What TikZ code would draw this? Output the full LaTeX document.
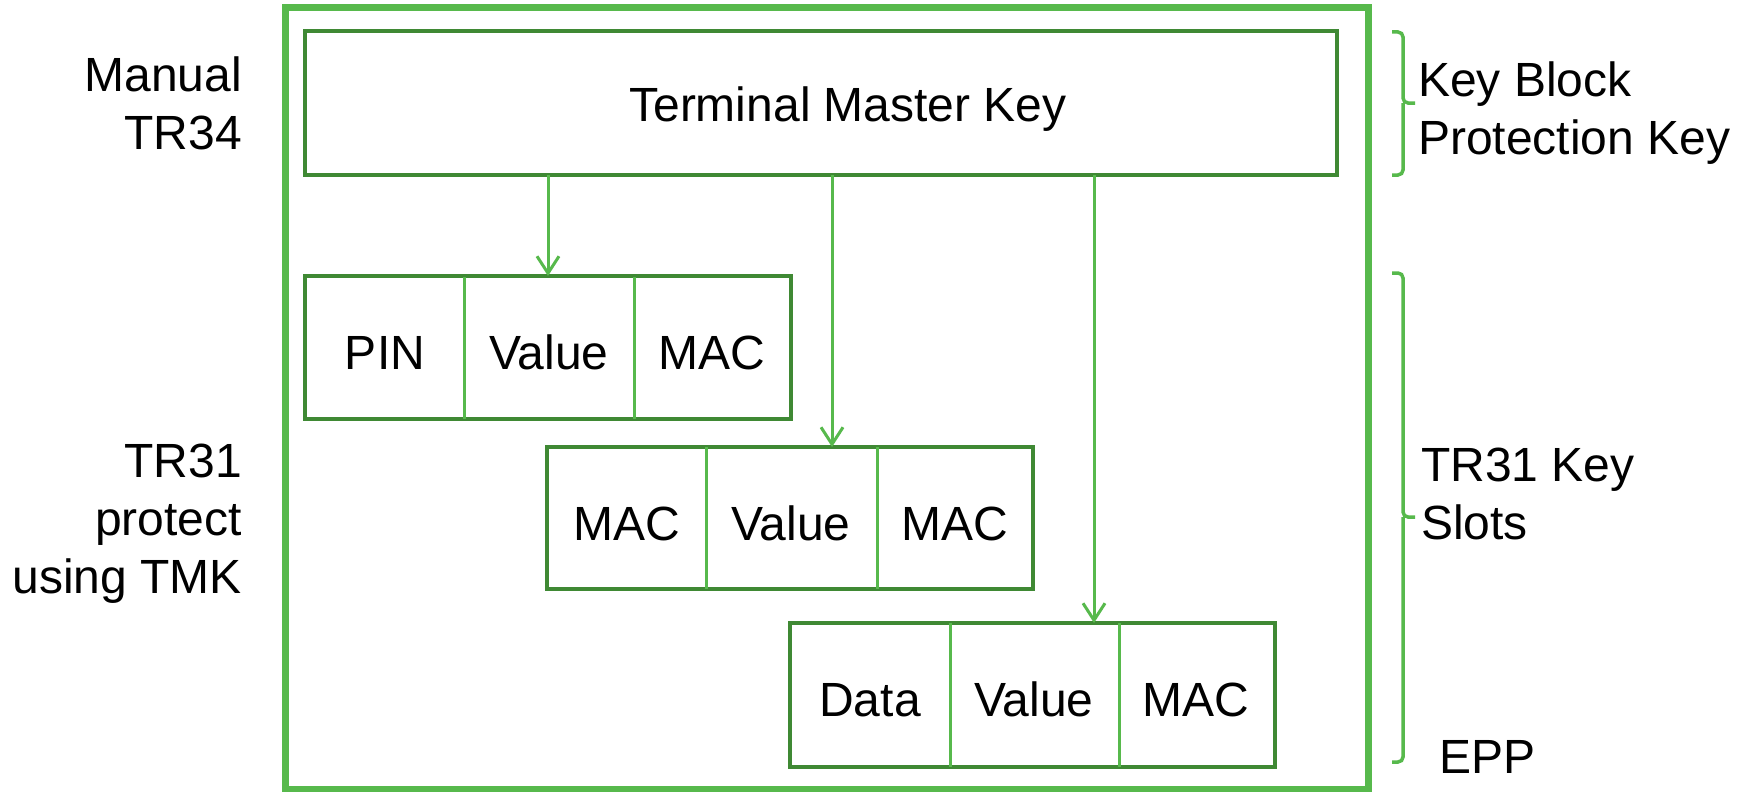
\documentclass[tikz,border=0pt]{standalone}
\usepackage{fontspec}
\setmainfont{Liberation Sans}
\usetikzlibrary{arrows.meta}
\definecolor{dkg}{RGB}{63,137,52}
\definecolor{ltg}{RGB}{87,185,76}
\newcommand{\lines}[2][r]{\begin{tabular}[t]{@{}#1@{}}#2\end{tabular}}
\begin{document}
\begin{tikzpicture}[x=1pt,y=-1pt,
  txt/.style={font=\fontsize{48}{58}\selectfont, inner sep=0pt, outer sep=0pt, text=black},
  keybox/.style={draw=dkg, line width=4pt, inner sep=0pt, outer sep=0pt, fill=white},
  div/.style={draw=ltg, line width=3pt},
  arr/.style={draw=ltg, line width=3pt, -{Straight Barb[length=17pt,width=22pt,line width=3pt]}},
  bracestyle/.style={draw=ltg, line width=3.5pt, rounded corners=5pt}]
\useasboundingbox (0,0) rectangle (1750,792);
% outer EPP box
\node[draw=ltg, line width=7pt, inner sep=0pt, outer sep=0pt, minimum width=1083pt, minimum height=781pt] (epp) at (826.5,398.5) {};
% terminal master key
\node[keybox, minimum width=1032pt, minimum height=144pt] (tmk) at (821,103) {};
\node[txt, anchor=base] (tmktxt) at (848,121) {Terminal Master Key};
% key block 1
\node[keybox, minimum width=486pt, minimum height=143pt] (b1) at (548,347.5) {};
\draw[div] (464,277) -- (464,419);
\draw[div] (634,277) -- (634,419);
\node[txt, anchor=base] (b1a) at (385,369) {PIN};
\node[txt, anchor=base] (b1b) at (549,369) {Value};
\node[txt, anchor=base] (b1c) at (712,369) {MAC};
% key block 2
\node[keybox, minimum width=486pt, minimum height=142pt] (b2) at (790,518) {};
\draw[div] (706,447) -- (706,589);
\draw[div] (877,447) -- (877,589);
\node[txt, anchor=base] (b2a) at (627,540) {MAC};
\node[txt, anchor=base] (b2b) at (791,540) {Value};
\node[txt, anchor=base] (b2c) at (955,540) {MAC};
% key block 3
\node[keybox, minimum width=485pt, minimum height=144pt] (b3) at (1032,695) {};
\draw[div] (950,623) -- (950,767);
\draw[div] (1119,623) -- (1119,767);
\node[txt, anchor=base] (b3a) at (870,716) {Data};
\node[txt, anchor=base] (b3b) at (1034,716) {Value};
\node[txt, anchor=base] (b3c) at (1196,716) {MAC};
% arrows
\coordinate (a2) at (832,447);
\coordinate (a3) at (1094,623);
\draw[arr] (tmk.south -| b1.north) -- (b1.north);
\draw[arr] (tmk.south -| a2) -- (a2);
\draw[arr] (tmk.south -| a3) -- (a3);
% braces
\draw[bracestyle] (1392,32) -| (1403,103) -- (1415,103);
\draw[bracestyle] (1403,103) |- (1392,175);
\draw[bracestyle] (1392,273) -| (1403,517) -- (1415,517);
\draw[bracestyle] (1403,517) |- (1392,762);
% left labels
\node[txt, anchor=base east] (lman) at (242,92) {\lines{Manual\\TR34}};
\node[txt, anchor=base east] (ltr31) at (242,477) {\lines{TR31\\protect\\using TMK}};
% right labels
\node[txt, anchor=base west] (rkbpk) at (1418,96) {\lines[l]{Key Block\\Protection Key}};
\node[txt, anchor=base west] (rslots) at (1421,481) {\lines[l]{TR31 Key\\Slots}};
\node[txt, anchor=base west] (repp) at (1439,773) {EPP};
\end{tikzpicture}
\end{document}
